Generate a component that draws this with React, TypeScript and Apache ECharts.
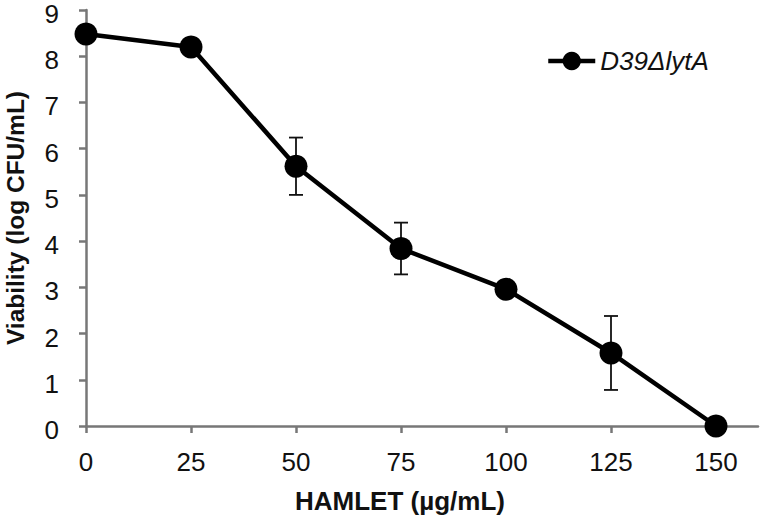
import React, { useEffect, useRef } from "react";
import * as echarts from "echarts";

const doses = [0, 25, 50, 75, 100, 125, 150];
const viability = [8.48, 8.2, 5.62, 3.84, 2.96, 1.58, 0];
const errors = [0, 0, 0.62, 0.56, 0.17, 0.8, 0];
const xTicks = [0, 25, 50, 75, 100, 125, 150];
const seriesName = "D39ΔlytA";

export default function App() {
  const ref = useRef<HTMLDivElement>(null);
  useEffect(() => {
    const chart = echarts.init(ref.current!, null, { renderer: "svg" });
    const lineData = doses.map((d, i) => [d, viability[i]]);
    const errData = doses
      .map((d, i) => [d, viability[i] - errors[i], viability[i] + errors[i]])
      .filter((_, i) => errors[i] > 0);
    const axisColor = "#777777";
    const font = "Liberation Sans, Arial, sans-serif";
    chart.setOption({
      animation: false,
      backgroundColor: "#ffffff",
      textStyle: { fontFamily: font },
      grid: { left: 86, right: 2, top: 10, bottom: 92, containLabel: false, outerBoundsMode: "none" },
      legend: {
        left: 541,
        top: 43,
        itemWidth: 47,
        itemHeight: 23,
        lineStyle: { width: 4.5 },
        data: [{ name: seriesName }],
        textStyle: {
          fontSize: 26,
          fontStyle: "italic",
          color: "#111",
          fontFamily: font,
        },
      },
      xAxis: {
        type: "value",
        min: 0,
        max: 160,
        name: "HAMLET (µg/mL)",
        nameLocation: "middle",
        nameGap: 62,
        nameTextStyle: { fontSize: 26, fontWeight: "bold", color: "#111", padding: [0, 0, 0, -44] },
        axisLine: { show: true, lineStyle: { color: axisColor, width: 2.5 } },
        axisTick: { show: true, customValues: xTicks, length: 7, lineStyle: { color: axisColor, width: 2.5 } },
        axisLabel: { customValues: xTicks, fontSize: 26, color: "#111", margin: 23 },
        splitLine: { show: false },
      },
      yAxis: {
        type: "value",
        min: 0,
        max: 9,
        interval: 1,
        name: "Viability (log CFU/mL)",
        nameLocation: "middle",
        nameGap: 60,
        nameTextStyle: { fontSize: 24.5, fontWeight: "bold", color: "#111", lineHeight: 22 },
        axisLine: { show: true, lineStyle: { color: axisColor, width: 2.5 } },
        axisTick: { show: true, length: 7, lineStyle: { color: axisColor, width: 2.5 } },
        axisLabel: { fontSize: 26, color: "#111", margin: 27, verticalAlign: "top", lineHeight: 8 },
        splitLine: { show: false },
      },
      series: [
        {
          type: "custom",
          name: "err",
          data: errData,
          z: 1,
          renderItem: (params: any, api: any) => {
            const x = api.value(0);
            const lo = api.coord([x, api.value(1)]);
            const hi = api.coord([x, api.value(2)]);
            const cap = 7;
            const style = { stroke: "#111", lineWidth: 1.8 };
            return {
              type: "group",
              children: [
                { type: "line", shape: { x1: lo[0], y1: lo[1], x2: hi[0], y2: hi[1] }, style },
                { type: "line", shape: { x1: lo[0] - cap, y1: lo[1], x2: lo[0] + cap, y2: lo[1] }, style },
                { type: "line", shape: { x1: hi[0] - cap, y1: hi[1], x2: hi[0] + cap, y2: hi[1] }, style },
              ],
            };
          },
        },
        {
          type: "line",
          name: seriesName,
          data: lineData,
          z: 3,
          symbol: "circle",
          symbolSize: 23,
          clip: false,
          lineStyle: { color: "#000", width: 4.5 },
          itemStyle: { color: "#000" },
        },
      ],
    });
    return () => chart.dispose();
  }, []);
  return <div ref={ref} style={{ width: 760, height: 518, position: "absolute", left: 0, top: 0 }} />;
}
